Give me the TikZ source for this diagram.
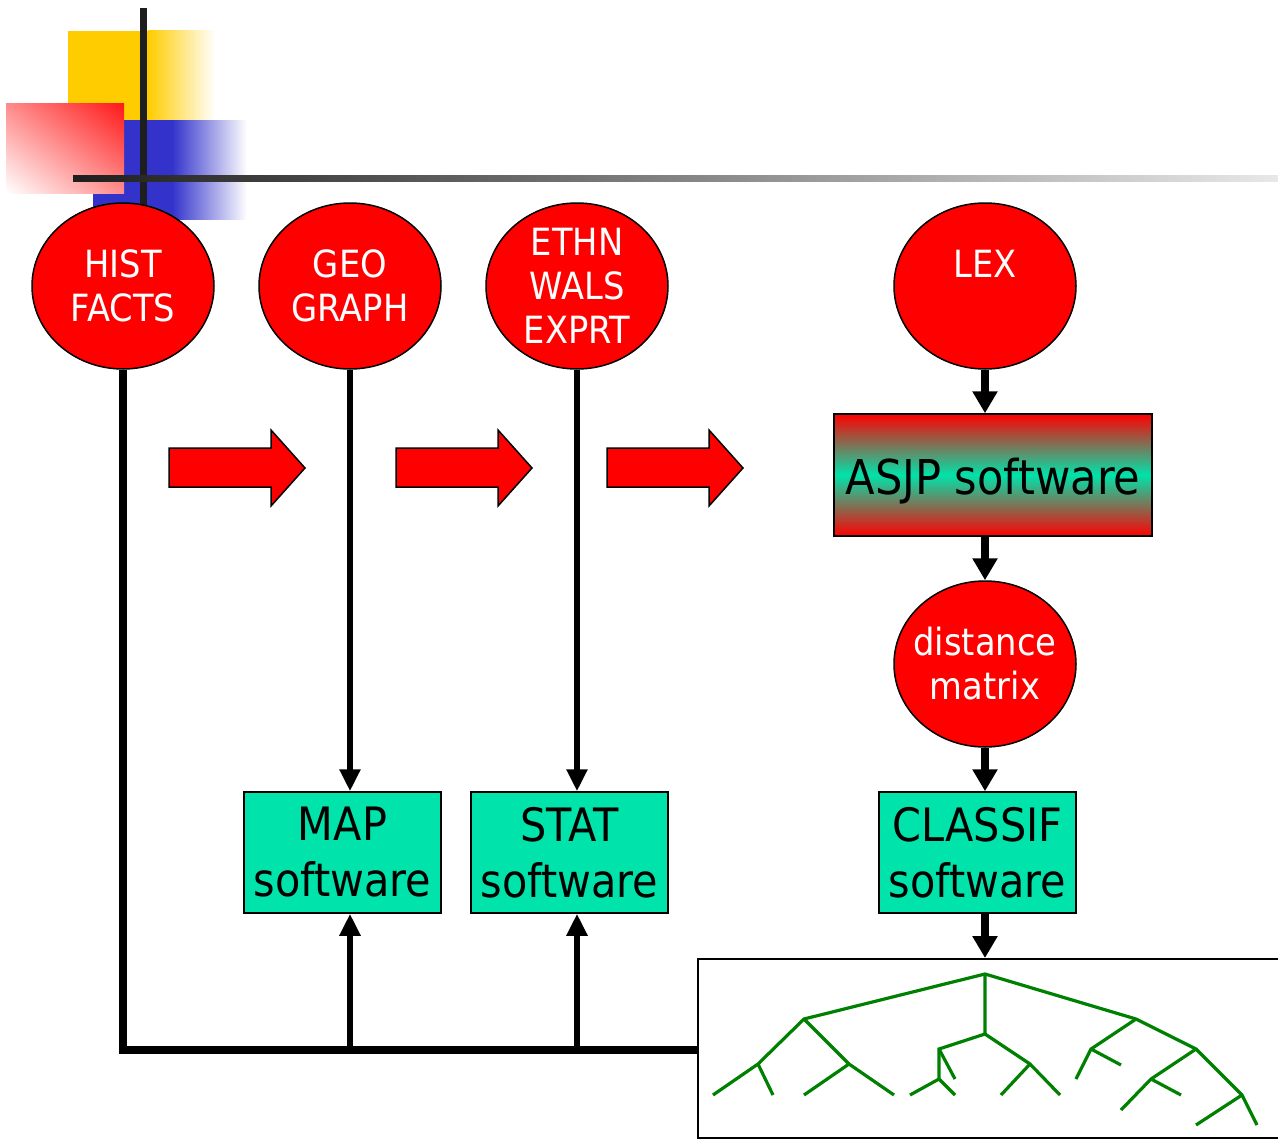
\documentclass[tikz,border=0pt]{standalone}
\usepackage{fontspec}
\setmainfont{DejaVu Sans}[FakeStretch=0.9]
\usetikzlibrary{shapes.geometric,arrows.meta,shadings}
\definecolor{boxteal}{HTML}{00E3AA}
\definecolor{treegreen}{HTML}{008000}
\definecolor{decoyellow}{HTML}{FFCC00}
\definecolor{decoblue}{HTML}{3333CC}
\definecolor{barblack}{HTML}{1E1E1E}
\definecolor{barlight}{HTML}{E8E8E8}

\begin{document}
\begin{tikzpicture}[x=1pt,y=-1pt,
  source/.style={ellipse, draw=black, line width=1.5pt, fill=red, text=white,
    minimum width=182pt, minimum height=166pt, inner xsep=-20pt, inner ysep=0pt,
    align=center, font=\fontsize{37.5}{44}\selectfont},
  softbox/.style={rectangle, draw=black, line width=1.5pt, fill=boxteal,
    minimum width=197pt, minimum height=121pt, inner sep=0pt, align=center,
    font=\fontsize{46}{56}\selectfont},
  flow/.style={line width=8pt, -{Triangle[width=24pt,length=22pt]}},
  feed/.style={line width=6pt, -{Triangle[width=20pt,length=22pt]}},
  bigarrow/.style={fill=red, draw=black, line width=1.5pt, line join=miter},
  branch/.style={treegreen, line width=3.2pt}
]
\useasboundingbox (0,0) rectangle (1278,1140);

% corner ornament
\fill[decoyellow] (68,31) rectangle (148,120);
\shade[left color=decoyellow, right color=white] (148,31) rectangle (215,120);
\fill[decoblue] (93,120) rectangle (172,219);
\shade[left color=decoblue, right color=white] (172,120) rectangle (247,219);
\shade[upper left=red!45!white, upper right=red!90!white,
       lower left=white, lower right=red!45!white] (6,104) rectangle (124,193);
\fill[barblack] (139.5,8) rectangle (146.5,212);
\shade[left color=barblack, right color=barlight] (73,175) rectangle (1278,181);

% data sources
\node[source] (hist) at (123,286) {HIST\\FACTS};
\node[source] (geo)  at (350,286) {GEO\\GRAPH};
\node[source] (ethn) at (577,286) {ETHN\\WALS\\EXPRT};
\node[source] (lex)  at (985,286) {LEX\\\mbox{}};
\node[source] (dist) at (985,664) {distance\\matrix};

% programs
\node[softbox, fill=none, top color=red, bottom color=red, middle color=boxteal,
      minimum width=318pt, minimum height=122pt,
      font=\fontsize{48}{56}\selectfont] (asjp) at (993,475)
      {\raisebox{-6pt}[\height][\depth]{ASJP software}};
\node[softbox] (map)     at (342.5,852.5) {MAP\\software};
\node[softbox] (stat)    at (569.5,852.5) {STAT\\software};
\node[softbox] (classif) at (977.5,852.5) {CLASSIF\\software};

% output frame
\node[draw=black, line width=2pt, minimum width=590pt, minimum height=179pt,
      inner sep=0pt] (treebox) at (993,1048.5) {};
\coordinate (base) at (123,1050);

% pipeline arrows
\draw[flow] (lex.south) -- (lex.south |- asjp.north);
\draw[flow] (asjp.south -| dist.north) -- (dist.north);
\draw[flow] (dist.south) -- (dist.south |- classif.north);
\draw[flow] (classif.south -| dist.south) -- (treebox.north -| dist.south);
\draw[feed] (geo.south) -- (geo.south |- map.north);
\draw[feed] (ethn.south) -- (ethn.south |- stat.north);
\draw[line width=8pt, line join=miter] (hist.south) -- (base) -- (treebox.west |- base);
\draw[feed] (geo.south |- base) -- (geo.south |- map.south);
\draw[feed] (ethn.south |- base) -- (ethn.south |- stat.south);

% block arrows
\foreach \dx in {0,227,438}{
  \draw[bigarrow, xshift=\dx] (169,448) -- (271,448) -- (271,430) -- (305,468)
    -- (271,506) -- (271,487) -- (169,487) -- cycle;
}

% classification tree
\draw[branch] (713,1095) -- (758,1064) -- (804,1019) -- (985,974) -- (1136,1019)
  -- (1196,1049) -- (1242,1095) -- (1257,1125);
\draw[branch] (758,1064) -- (773,1095);
\draw[branch] (804,1019) -- (849,1064) -- (894,1095);
\draw[branch] (849,1064) -- (804,1095);
\draw[branch] (985,974) -- (985,1034) -- (939,1049) -- (939,1079) -- (910,1095);
\draw[branch] (939,1079) -- (955,1095);
\draw[branch] (939,1049) -- (955,1079);
\draw[branch] (985,1034) -- (1030,1064) -- (1060,1095);
\draw[branch] (1030,1064) -- (1001,1095);
\draw[branch] (1136,1019) -- (1091,1049) -- (1076,1079);
\draw[branch] (1091,1049) -- (1121,1065);
\draw[branch] (1196,1049) -- (1151,1079) -- (1121,1110);
\draw[branch] (1151,1079) -- (1181,1095);
\draw[branch] (1242,1095) -- (1196,1125);
\end{tikzpicture}
\end{document}
